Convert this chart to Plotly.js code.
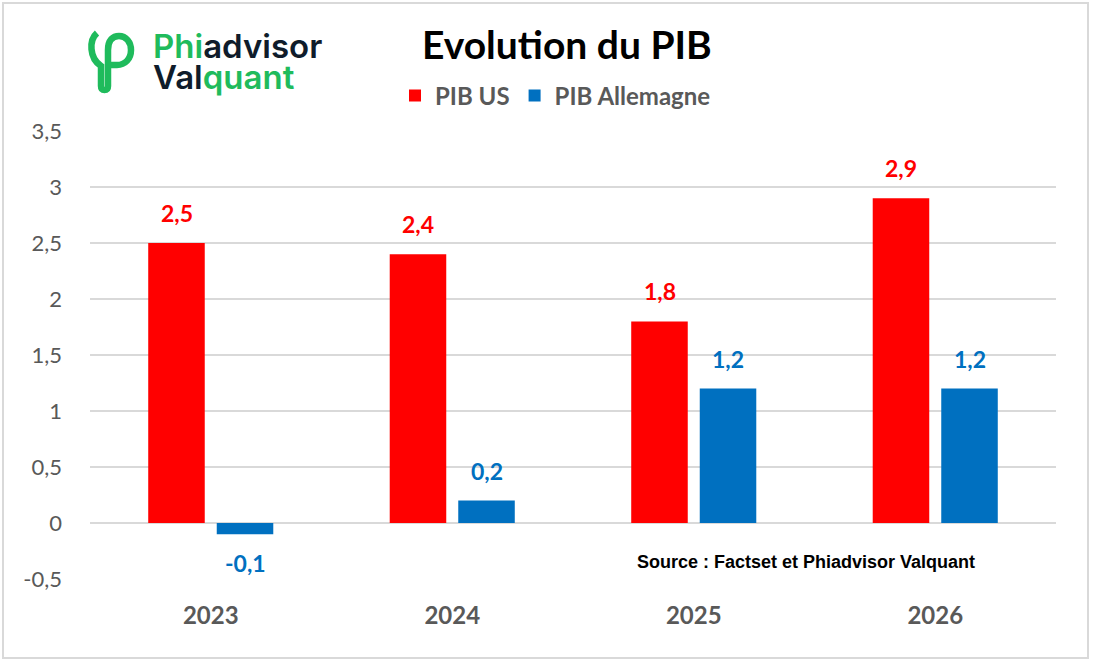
<!DOCTYPE html>
<html>
<head>
<meta charset="utf-8">
<script src="https://cdn.plot.ly/plotly-3.0.1.min.js"></script>
<style>html,body{margin:0;padding:0;background:#fff;}#chart{width:1093px;height:663px;}</style>
</head>
<body>
<div id="chart"></div>
<script>
// ---- data ----
const categories = ['2023', '2024', '2025', '2026'];
const pibUS = [2.5, 2.4, 1.8, 2.9];
const pibAllemagne = [-0.1, 0.2, 1.2, 1.2];
const yTickValues = [-0.5, 0, 0.5, 1, 1.5, 2, 2.5, 3, 3.5];
const seriesNames = ['PIB US', 'PIB Allemagne'];
const chartTitle = 'Evolution du PIB';
const sourceText = 'Source : Factset et Phiadvisor Valquant';

// ---- style ----
const RED = '#ff0000', BLUE = '#0070c0', GREY = '#595959', GRID = '#d9d9d9', GREEN = '#1fbb5c', DARK = '#0f1c2b';
const W = 1093, H = 663, ML = 90, MR = 37, MT = 131, MB = 84;
const PW = W - ML - MR, PH = H - MT - MB;
const px = x => (x - ML) / PW;
const py = y => (H - MB - y) / PH;
const fmt = v => String(v).replace('.', ',');

const traces = [
  {type: 'bar', name: seriesNames[0], x: categories, y: pibUS, marker: {color: RED}},
  {type: 'bar', name: seriesNames[1], x: categories, y: pibAllemagne, marker: {color: BLUE}}
];

const annotations = [];
const slot = 68.5 / 2;
[[pibUS, RED, -slot], [pibAllemagne, BLUE, slot]].forEach(([vals, col, xs]) => {
  vals.forEach((v, i) => {
    annotations.push({
      xref: 'x', yref: 'y', x: i, y: v, xshift: xs,
      yshift: v >= 0 ? 30 : -29, yanchor: 'middle', xanchor: 'center',
      text: fmt(v), showarrow: false,
      font: {family: 'Lato', size: 23, color: col, weight: 'bold'}
    });
  });
});
annotations.push({
  xref: 'paper', yref: 'paper', x: px(567), y: py(44), xanchor: 'center', yanchor: 'middle',
  text: '<b>' + chartTitle + '</b>', showarrow: false,
  font: {family: 'Lato', size: 39, color: '#000'}
});
annotations.push({
  xref: 'paper', yref: 'paper', x: px(806), y: py(562), xanchor: 'center', yanchor: 'middle',
  text: '<b>' + sourceText + '</b>', showarrow: false,
  font: {family: 'Liberation Sans', size: 18, color: '#000'}
});
annotations.push({
  xref: 'paper', yref: 'paper', x: px(151), y: py(46), xanchor: 'left', yanchor: 'middle',
  text: '<span style="color:' + GREEN + '">Phi</span><span style="color:' + DARK + '">advisor</span>',
  showarrow: false, font: {family: 'Inter', size: 33, weight: 600}
});
annotations.push({
  xref: 'paper', yref: 'paper', x: px(151), y: py(77), xanchor: 'left', yanchor: 'middle',
  text: '<span style="color:' + DARK + '">Val</span><span style="color:' + GREEN + '">quant</span>',
  showarrow: false, font: {family: 'Inter', size: 33, weight: 600}
});

// logo icon path (pixel points converted to paper)
function P(x, y) { return px(x).toFixed(5) + ',' + py(y).toFixed(5); }
const iconPath = 'M' + P(97, 33) + ' C' + P(89, 40) + ' ' + P(89, 58) + ' ' + P(101, 66) +
  ' L' + P(101, 86) + ' Q' + P(101, 90) + ' ' + P(104.5, 90) + ' Q' + P(108, 90) + ' ' + P(108, 86) +
  ' L' + P(108, 50) + ' C' + P(108, 40) + ' ' + P(113, 36) + ' ' + P(119, 36) +
  ' C' + P(126, 36) + ' ' + P(131, 42) + ' ' + P(131, 50) + ' C' + P(131, 59) + ' ' + P(125, 65) + ' ' + P(117, 65) +
  ' L' + P(108, 65);

const shapes = [
  {type: 'rect', xref: 'paper', yref: 'paper', x0: px(3), x1: px(1088), y0: py(658), y1: py(3),
   line: {color: GRID, width: 2}, fillcolor: 'rgba(0,0,0,0)', layer: 'below'},
  {type: 'path', xref: 'paper', yref: 'paper', path: iconPath, line: {color: GREEN, width: 6.5}, fillcolor: 'rgba(0,0,0,0)'}
];

const layout = {
  width: W, height: H,
  margin: {l: ML, r: MR, t: MT, b: MB, pad: 0},
  paper_bgcolor: '#fff', plot_bgcolor: '#fff',
  barmode: 'group', bargap: 0.4325, bargroupgap: 0.175,
  showlegend: true,
  legend: {orientation: 'h', x: px(395), xanchor: 'left', y: py(96), yanchor: 'middle',
    font: {family: 'Lato', size: 24, color: GREY, weight: 'bold'}, bgcolor: 'rgba(0,0,0,0)'},
  xaxis: {type: 'category', range: [-0.5, 3.5], showgrid: false, showline: false, zeroline: false,
    ticks: '', ticklabelstandoff: 20,
    tickfont: {family: 'Lato', size: 24, color: GREY, weight: 'bold'}},
  yaxis: {range: [-0.5, 3.5], tickvals: yTickValues, ticktext: yTickValues.map(fmt),
    showgrid: true, gridcolor: GRID, gridwidth: 1.5, zeroline: true, zerolinecolor: GRID, zerolinewidth: 1.5,
    showline: false, ticks: '', ticklabelstandoff: 27,
    tickfont: {family: 'Lato', size: 22, color: GREY}},
  annotations: annotations,
  shapes: shapes
};

Plotly.newPlot('chart', traces, layout, {staticPlot: true, displayModeBar: false});
</script>
</body>
</html>
